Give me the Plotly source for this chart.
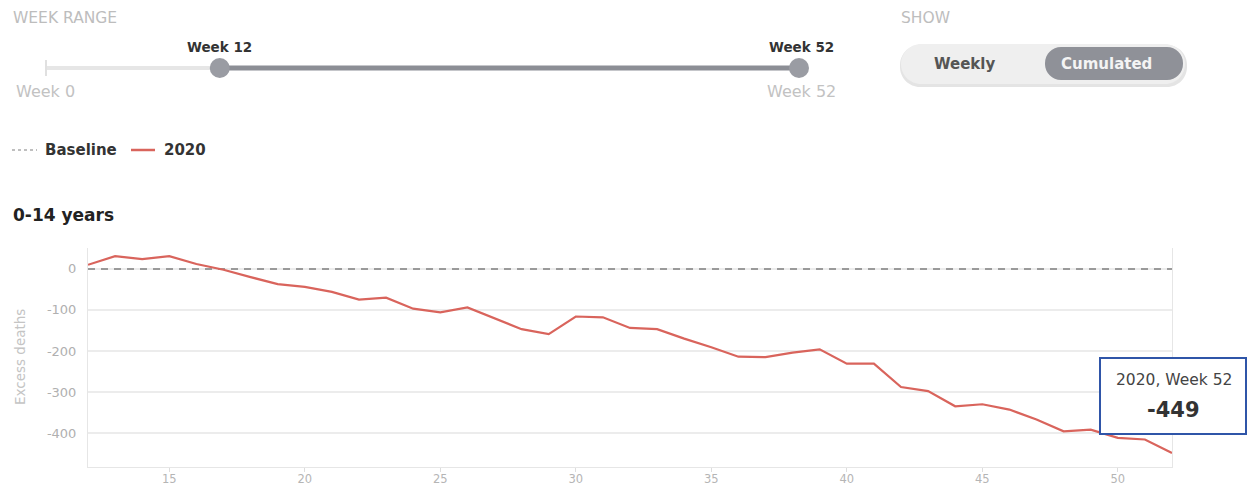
import plotly.graph_objects as go

# ---------------- data ----------------
weeks = list(range(12, 53))
excess_2020 = [10, 31, 24, 31, 12, -2, -20, -37, -44, -56, -75, -70, -97,
               -106, -94, -121, -147, -159, -116, -118, -144, -147, -170, -191,
               -214, -215, -204, -196, -231, -231, -288, -298, -335, -330, -343,
               -367, -396, -392, -412, -416, -449]
baseline = [0] * len(weeks)
x_ticks = [15, 20, 25, 30, 35, 40, 45, 50]
y_ticks = [-400, -300, -200, -100, 0]
y_tick_text = ["-400", "-300", "-200", "-100", "0"]
week_min, week_max = 0, 52
range_start, range_end = 12, 52
series_name = "2020"
panel_title = "0-14 years"

# ---------------- layout geometry (screen pixels) ----------------
W, H = 1248, 486
L, R, T, B = 88, 76, 248, 19  # plot area on screen
PW, PH = W - L - R, H - T - B
FONT = "DejaVu Sans"
RED = "#d9645c"


def px(x):
    return (x - L) / PW


def py(y):
    return (H - B - y) / PH


def rounded_path(x0, y0, x1, y1, r):
    k = 0.5523 * r
    pts = [
        ("M", [(x0 + r, y0)]),
        ("L", [(x1 - r, y0)]),
        ("C", [(x1 - r + k, y0), (x1, y0 + r - k), (x1, y0 + r)]),
        ("L", [(x1, y1 - r)]),
        ("C", [(x1, y1 - r + k), (x1 - r + k, y1), (x1 - r, y1)]),
        ("L", [(x0 + r, y1)]),
        ("C", [(x0 + r - k, y1), (x0, y1 - r + k), (x0, y1 - r)]),
        ("L", [(x0, y0 + r)]),
        ("C", [(x0, y0 + r - k), (x0 + r - k, y0), (x0 + r, y0)]),
    ]
    s = ""
    for cmd, ps in pts:
        s += cmd + " " + " ".join(f"{px(a):.5f},{py(b):.5f}" for a, b in ps) + " "
    return s + "Z"


def text(x, y, s, size, color, anchor="left", angle=0):
    return dict(x=px(x), y=py(y), xref="paper", yref="paper", showarrow=False,
                text=s, textangle=angle, font=dict(family=FONT, size=size, color=color),
                xanchor=anchor, yanchor="middle")


fig = go.Figure()
fig.add_trace(go.Scatter(x=weeks, y=baseline, mode="lines", name="Baseline",
                         line=dict(color="#9a9a9a", width=2, dash="7px,6px"),
                         hoverinfo="skip"))
fig.add_trace(go.Scatter(x=weeks, y=excess_2020, mode="lines", name=series_name,
                         line=dict(color=RED, width=2.2)))

shapes = []
ann = []

# ---------------- slider ----------------
sx0, sx1, sy = 46, 799, 68


def sl(w):
    return sx0 + (w - week_min) / (week_max - week_min) * (sx1 - sx0)


shapes.append(dict(type="line", xref="paper", yref="paper", x0=px(sx0), x1=px(sx1),
                   y0=py(sy), y1=py(sy), line=dict(color="#e6e6e6", width=4)))
shapes.append(dict(type="line", xref="paper", yref="paper", x0=px(sx0), x1=px(sx0),
                   y0=py(sy - 8), y1=py(sy + 8), line=dict(color="#e0e0e0", width=2)))
shapes.append(dict(type="line", xref="paper", yref="paper", x0=px(sl(range_start)),
                   x1=px(sl(range_end)), y0=py(sy), y1=py(sy),
                   line=dict(color="#8c8e95", width=5)))
for w in (range_start, range_end):
    cx = sl(w)
    shapes.append(dict(type="circle", xref="paper", yref="paper",
                       x0=px(cx - 10), x1=px(cx + 10), y0=py(sy + 10), y1=py(sy - 10),
                       fillcolor="#9a9ca3", line=dict(width=0)))
ann.append(text(sl(range_start), 47, f"<b>Week {range_start}</b>", 13.5, "#333", "center"))
ann.append(text(sl(range_end) + 2, 47, f"<b>Week {range_end}</b>", 13.5, "#333", "center"))
ann.append(text(14, 91, f"Week {week_min}", 16, "#c2c2c2"))
ann.append(text(838, 91, f"Week {week_max}", 16, "#c2c2c2", "right"))
ann.append(text(11, 18, "WEEK RANGE", 15.5, "#bdbdbd"))

# ---------------- toggle ----------------
ann.append(text(899, 18, "SHOW", 15.5, "#bdbdbd"))
shapes.append(dict(type="path", xref="paper", yref="paper",
                   path=rounded_path(900, 45, 1187, 87, 20),
                   fillcolor="#e4e4e4", line=dict(width=0)))
shapes.append(dict(type="path", xref="paper", yref="paper",
                   path=rounded_path(901, 44, 1185, 84, 20),
                   fillcolor="#efefef", line=dict(width=0)))
shapes.append(dict(type="path", xref="paper", yref="paper",
                   path=rounded_path(1045, 47, 1183, 80, 16),
                   fillcolor="#8f9198", line=dict(width=0)))
ann.append(text(964, 64, "<b>Weekly</b>", 15, "#555", "center"))
ann.append(text(1106, 64, "<b>Cumulated</b>", 15, "#f4f4f4", "center"))

# ---------------- legend ----------------
shapes.append(dict(type="line", xref="paper", yref="paper", x0=px(12), x1=px(37),
                   y0=py(150), y1=py(150), line=dict(color="#aaa", width=1.5, dash="dot")))
ann.append(text(43, 150, "<b>Baseline</b>", 15, "#333"))
shapes.append(dict(type="line", xref="paper", yref="paper", x0=px(131), x1=px(155),
                   y0=py(150), y1=py(150), line=dict(color=RED, width=2.5)))
ann.append(text(162, 150, f"<b>{series_name}</b>", 15, "#333"))

# ---------------- panel title ----------------
ann.append(text(11, 215, f"<b>{panel_title}</b>", 17, "#222"))

# y axis title
ann.append(text(20, 357, "Excess deaths", 13.5, "#c4c4c4", "center", -90))

# ---------------- tooltip ----------------
shapes.append(dict(type="rect", xref="paper", yref="paper", x0=px(1100), x1=px(1246),
                   y0=py(358), y1=py(434), fillcolor="white",
                   line=dict(color="#2f55a8", width=2)))
ann.append(text(1174, 380, f"{series_name}, Week {weeks[-1]}", 15.5, "#444", "center"))
ann.append(text(1173, 410, f"<b>{excess_2020[-1]}</b>", 21, "#333", "center"))

fig.update_layout(
    width=W, height=H,
    margin=dict(l=L, r=R, t=T, b=B, autoexpand=False),
    paper_bgcolor="white", plot_bgcolor="white",
    showlegend=False,
    font=dict(family=FONT),
    shapes=shapes, annotations=ann,
    xaxis=dict(range=[12, 52], tickvals=x_ticks, showgrid=False, zeroline=False,
               showline=True, linecolor="#e6e6e6", linewidth=1,
               ticks="outside", ticklen=4, tickcolor="#dddddd", ticklabelstandoff=-3,
               tickfont=dict(family=FONT, size=11.5, color="#b5b5b5"), automargin=False),
    yaxis=dict(range=[-483, 51], tickvals=y_ticks, ticktext=y_tick_text,
               showgrid=True, gridcolor="#ececec",
               gridwidth=1.5, zeroline=False, showline=True, mirror=True,
               linecolor="#e6e6e6", linewidth=1,
               ticks="outside", ticklen=8, tickcolor="rgba(0,0,0,0)",
               tickfont=dict(family=FONT, size=13, color="#b0b0b0"), automargin=False),
)

fig.write_html(
    "out.html",
    config={"displayModeBar": False},
    post_script="document.body.style.margin='0';document.body.style.overflow='hidden';",
)
